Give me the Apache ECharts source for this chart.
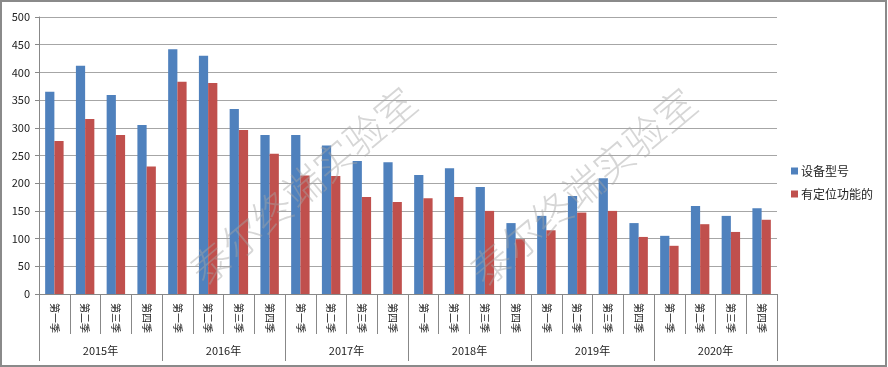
<!DOCTYPE html>
<html><head><meta charset="utf-8">
<script src="https://cdn.jsdelivr.net/npm/echarts@6/dist/echarts.min.js"></script>
<style>html,body{margin:0;padding:0;background:#fff}#c{width:888px;height:367px}</style>
</head><body><div id="c"></div>
<script>
const quarters = ['第一季','第二季','第三季','第四季'];
const years = ['2015年','2016年','2017年','2018年','2019年','2020年'];
const categories = [];
years.forEach(y => quarters.forEach(q => categories.push(q)));
const seriesNames = ['设备型号','有定位功能的'];
const deviceModels = [365,412,359,305, 442,430,334,287, 287,268,240,238, 215,227,193,128, 141,177,209,128, 105,159,141,155];
const withPositioning = [276,316,287,230, 383,381,296,253, 214,213,175,166, 173,175,150,99, 115,147,150,103, 87,126,112,134];
const yTicks = {min:0, max:500, interval:50};
const watermark = '泰尔终端实验室';

const chart = echarts.init(document.getElementById('c'), null, {renderer:'canvas'});
const font = '"Noto Sans CJK SC", "DejaVu Sans", sans-serif';
const wmStyle = {text:watermark, fill:'rgba(165,165,165,0.45)', align:'center', verticalAlign:'middle', font:'300 40px "Noto Sans CJK SC", sans-serif'};
chart.setOption({
  animation:false,
  textStyle:{fontFamily:font},
  grid:{left:39, right:111, top:17, bottom:73},
  legend:{
    orient:'vertical', left:786, top:160, itemWidth:7, itemHeight:7, itemGap:11,
    icon:'rect', textStyle:{fontSize:12, color:'#222', fontFamily:font, padding:[0,0,0,-2]},
    data:seriesNames
  },
  xAxis:[{
    type:'category', data:categories, position:'bottom',
    axisLine:{lineStyle:{color:'#888'}},
    axisTick:{show:true, interval:0, length:40, lineStyle:{color:'#888'}},
    axisLabel:{interval:0, rotate:-90, fontSize:10, color:'#222', margin:9}
  },{
    type:'category', data:years, position:'bottom',
    axisLine:{show:false},
    axisTick:{show:true, interval:0, length:67, lineStyle:{color:'#888'}},
    axisLabel:{interval:0, fontSize:11, color:'#222', margin:51}
  }],
  yAxis:{
    type:'value', min:yTicks.min, max:yTicks.max, interval:yTicks.interval,
    axisLine:{show:true, lineStyle:{color:'#888'}},
    axisTick:{show:true, length:4, lineStyle:{color:'#888'}},
    axisLabel:{fontSize:11, color:'#222', margin:9},
    splitLine:{lineStyle:{color:'#a6a6a6'}}
  },
  series:[{
    name:seriesNames[0], type:'bar', data:deviceModels, barGap:'0%', barCategoryGap:'40%',
    itemStyle:{color:'#4F81BD'}
  },{
    name:seriesNames[1], type:'bar', data:withPositioning,
    itemStyle:{color:'#C0504D'}
  }],
  graphic:[
    {type:'text', x:303, y:186, rotation:40*Math.PI/180, z:100, style:wmStyle},
    {type:'text', x:583, y:187, rotation:40*Math.PI/180, z:100, style:wmStyle},
    {type:'rect', shape:{x:1, y:1, width:885, height:365}, z:100,
      style:{fill:'none', stroke:'#8a8a8a', lineWidth:2}}
  ]
});
</script></body></html>
